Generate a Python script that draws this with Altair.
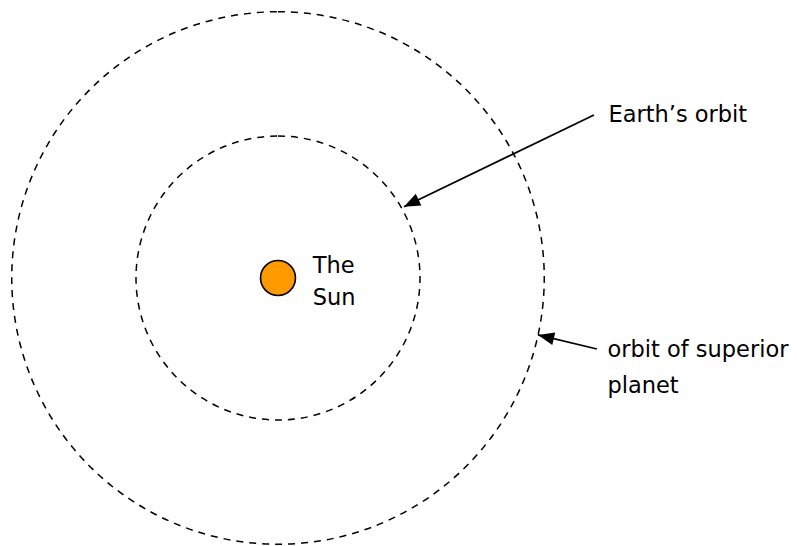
import math
import altair as alt
import pandas as pd

# ---- diagram data (units: Earth's orbit radius = 1, Sun at origin, y up) ----
orbit_names = ["Earth's orbit", "orbit of superior planet"]
orbit_radius = [1.0, 1.875]

sun_radius = [0.123]

label_text = ["The", "Sun", "Earth\u2019s orbit", "orbit of superior", "planet"]
label_x = [0.245, 0.245, 2.327, 2.320, 2.320]
label_y = [0.033, -0.190, 1.101, -0.554, -0.812]

arrow_x_start = [2.225, 2.246]
arrow_y_start = [1.148, -0.500]
arrow_x_tip = [0.887, 1.831]
arrow_y_tip = [0.502, -0.401]

# ---- layout ----
PX_PER_UNIT = 142.0
W, H = 781, 538
CENTER_PX = (270.0, 270.0)  # Sun position inside the plot area (px)

x_dom = [-CENTER_PX[0] / PX_PER_UNIT, (W - CENTER_PX[0]) / PX_PER_UNIT]
y_dom = [-(H - CENTER_PX[1]) / PX_PER_UNIT, CENTER_PX[1] / PX_PER_UNIT]
R_MAX = 3.0

xs = alt.Scale(domain=x_dom, nice=False, zero=False)
ys = alt.Scale(domain=y_dom, nice=False, zero=False)
rs = alt.Scale(type="linear", domain=[0, R_MAX], range=[0, R_MAX * PX_PER_UNIT], zero=True)

orbits = pd.DataFrame({"name": orbit_names, "r": orbit_radius, "x": 0.0, "y": 0.0})
sun = pd.DataFrame({"r": sun_radius, "x": [0.0], "y": [0.0]})
labels = pd.DataFrame({"text": label_text, "x": label_x, "y": label_y})

angles = []
for xs0, ys0, xt, yt in zip(arrow_x_start, arrow_y_start, arrow_x_tip, arrow_y_tip):
    a = math.degrees(math.atan2(xt - xs0, yt - ys0)) % 360
    angles.append(a)
arrows = pd.DataFrame({
    "x": arrow_x_start, "y": arrow_y_start,
    "x2": arrow_x_tip, "y2": arrow_y_tip,
    "angle": angles,
})

X = lambda f: alt.X(f, type="quantitative", scale=xs, axis=None)
Y = lambda f: alt.Y(f, type="quantitative", scale=ys, axis=None)

orbit_layer = alt.Chart(orbits).mark_arc(
    filled=False, stroke="black", strokeWidth=1.5, strokeDash=[7, 6],
    theta=0, theta2=2 * math.pi, fillOpacity=0
).encode(
    x=X("x"), y=Y("y"),
    radius=alt.Radius("r:Q", scale=rs, stack=None),
    detail="name:N",
)

sun_layer = alt.Chart(sun).mark_arc(
    fill="#FF9900", stroke="black", strokeWidth=1.6,
    theta=0, theta2=2 * math.pi
).encode(
    x=X("x"), y=Y("y"),
    radius=alt.Radius("r:Q", scale=rs, stack=None),
)

rule_layer = alt.Chart(arrows).mark_rule(color="black", strokeWidth=1.7).encode(
    x=X("x"), y=Y("y"), x2="x2", y2="y2"
)

head_layer = alt.Chart(arrows).mark_point(
    shape="M0,0L-0.4,1L0.4,1Z", filled=True, fill="black", stroke=None,
    opacity=1, size=1050
).encode(
    x=X("x2"), y=Y("y2"),
    angle=alt.Angle("angle:Q", scale=None),
)

text_layer = alt.Chart(labels).mark_text(
    align="left", baseline="alphabetic", font="DejaVu Sans", fontSize=22.5, color="black"
).encode(
    x=X("x"), y=Y("y"), text="text:N"
)

chart = alt.layer(orbit_layer, sun_layer, rule_layer, head_layer, text_layer).properties(
    width=W, height=H, padding=0, autosize="none", background="white"
).configure_view(stroke=None)

chart.save("out.html", embed_options={"renderer": "svg", "actions": False})
